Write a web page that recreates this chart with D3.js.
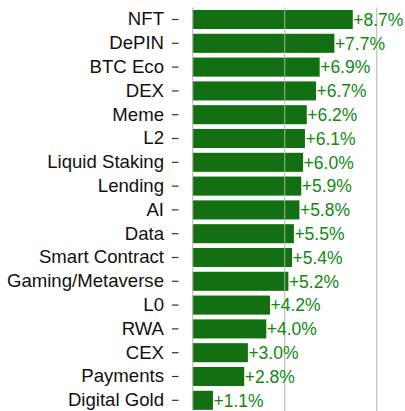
<!DOCTYPE html>
<html>
<head>
<meta charset="utf-8">
<script src="https://cdn.jsdelivr.net/npm/d3@7"></script>
<style>
  body { margin: 0; background: #fff; }
  svg { display: block; font-family: "Liberation Sans", Arial, sans-serif; }
</style>
</head>
<body>
<script>
// sector names and weekly change (%)
var sectors = ['NFT', 'DePIN', 'BTC Eco', 'DEX', 'Meme', 'L2', 'Liquid Staking', 'Lending', 'AI', 'Data',
  'Smart Contract', 'Gaming/Metaverse', 'L0', 'RWA', 'CEX', 'Payments', 'Digital Gold'];
var changes = [8.7, 7.7, 6.9, 6.7, 6.2, 6.1, 6.0, 5.9, 5.8, 5.5, 5.4, 5.2, 4.2, 4.0, 3.0, 2.8, 1.1];
var gridTicks = [0, 5, 10];

var svgWidth = 405;
var svgHeight = 411;

var svg = d3.select("body")
  .append("svg")
  .attr("width", svgWidth)
  .attr("height", svgHeight);

// scales
var xScale = d3.scaleLinear()
  .domain([0, 10])
  .range([192.7, 376.7]);
var yScale = d3.scaleBand()
  .domain(sectors)
  .range([7.6, 412.2])
  .paddingInner(0.2)
  .paddingOuter(0.1);

// bars
svg.append('g')
  .selectAll('rect')
  .data(sectors)
  .enter()
  .append('rect')
  .attr('x', xScale(0))
  .attr('y', d => yScale(d))
  .attr('width', (d, i) => xScale(changes[i]) - xScale(0))
  .attr('height', yScale.bandwidth())
  .attr('fill', '#126f12');

// vertical grid lines drawn over bars
svg.append('g')
  .selectAll('line')
  .data(gridTicks)
  .enter()
  .append('line')
  .attr('x1', d => xScale(d))
  .attr('x2', d => xScale(d))
  .attr('y1', 7.6)
  .attr('y2', svgHeight)
  .attr('stroke', '#b0b0b0')
  .attr('stroke-opacity', 0.8)
  .attr('stroke-width', 1.2);

// y axis: labels with small detached ticks
var yAxis = svg.append('g')
  .attr('transform', 'translate(178.5, 0)')
  .call(d3.axisLeft(yScale).tickSize(6.5).tickPadding(8));
yAxis.select('.domain').remove();
yAxis.selectAll('.tick line').attr('stroke', '#333').attr('stroke-width', 1.2);
yAxis.selectAll('.tick text')
  .attr('fill', '#111')
  .attr('font-size', 18.6)
  .attr('font-family', 'Liberation Sans, Arial, sans-serif');

// value labels
svg.append('g')
  .selectAll('text')
  .data(sectors)
  .enter()
  .append('text')
  .attr('x', (d, i) => xScale(changes[i]) + 0.5)
  .attr('y', d => yScale(d) + yScale.bandwidth() / 2)
  .attr('dy', '0.36em')
  .attr('fill', '#0f8a0f')
  .attr('font-size', 17.5)
  .text((d, i) => '+' + changes[i].toFixed(1) + '%');
</script>
</body>
</html>
